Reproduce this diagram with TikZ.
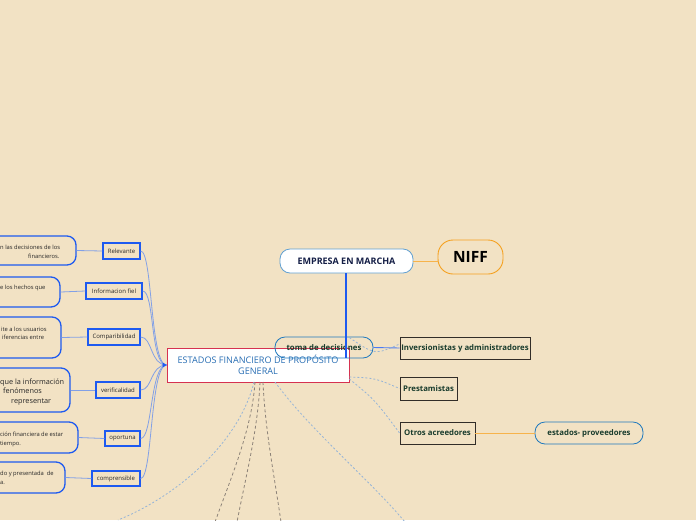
\documentclass[tikz,border=0pt]{standalone}
\usepackage{fontspec}
\setmainfont{Open Sans}
\definecolor{bg}{RGB}{242,226,196}
\definecolor{cenred}{RGB}{214,50,80}
\definecolor{centxt}{RGB}{40,110,180}
\definecolor{navy}{RGB}{20,30,70}
\definecolor{boxblue}{RGB}{30,90,240}
\definecolor{linkblue}{RGB}{130,160,230}
\definecolor{roundblue}{RGB}{30,120,190}
\definecolor{dkgreen}{RGB}{25,60,45}
\definecolor{niffor}{RGB}{245,160,30}
\definecolor{dashblue}{RGB}{150,180,215}
\definecolor{dashgray}{RGB}{140,130,120}
\definecolor{darkedge}{RGB}{50,45,40}
\tikzset{
  smallbox/.style={draw=boxblue, line width=1.3pt, fill=bg, inner sep=0pt, font=\fontsize{6}{7}\selectfont, text=black!85},
  bigbox/.style={draw=boxblue, line width=1.3pt, fill=bg, rounded corners=9pt},
  bigtxt/.style={inner sep=0pt, text=black!85},
  leaf/.style={draw=darkedge, line width=0.9pt, fill=bg, inner sep=0pt, font=\fontsize{7.8}{9}\selectfont\bfseries, text=dkgreen},
  pill/.style={draw=roundblue, line width=0.8pt, rounded corners=10pt, inner sep=0pt, font=\fontsize{7.8}{9}\selectfont\bfseries, text=dkgreen},
  link/.style={draw=linkblue, line width=0.8pt},
  dlink/.style={draw=dashblue, line width=0.8pt, dash pattern=on 2pt off 2pt},
  glink/.style={draw=dashgray, line width=0.8pt, dash pattern=on 3pt off 2.5pt},
}
\newcommand{\smalltxt}{\fontsize{5.8}{7}\selectfont}
\newcommand{\midtxt}{\fontsize{7.3}{8}\selectfont}
\begin{document}
\begin{tikzpicture}[x=1pt,y=-1pt]
\fill[bg] (0,0) rectangle (696,520);
\useasboundingbox (0,0) rectangle (696,520);

% central
\node[draw=cenred, line width=0.8pt, fill=white, minimum width=182pt, minimum height=34pt, inner sep=0pt, align=center, text=centxt, font=\fontsize{9.1}{10.5}\selectfont] (cen) at (258,365) {ESTADOS FINANCIERO DE PROPÓSITO\\GENERAL};

% small boxes
\node[smallbox, minimum width=37pt, minimum height=16pt] (rel) at (121.5,251) {Relevante};
\node[smallbox, minimum width=56pt, minimum height=16pt] (inf) at (114,291) {Informacion fiel};
\node[smallbox, minimum width=52pt, minimum height=16pt] (com) at (114,337) {Comparibilidad};
\node[smallbox, minimum width=44pt, minimum height=16pt] (ver) at (118,390) {verificalidad};
\node[smallbox, minimum width=35pt, minimum height=15pt] (opo) at (122.5,438.5) {oportuna};
\node[smallbox, minimum width=48pt, minimum height=15pt] (cpr) at (116,478.5) {comprensible};

% big boxes (left, partially outside)
\node[bigbox, minimum width=136pt, minimum height=29pt] (b1) at (8,250.5) {};
\node[bigbox, minimum width=120pt, minimum height=30pt] (b2) at (0,292) {};
\node[bigbox, minimum width=121pt, minimum height=41pt] (b3) at (0.5,337.5) {};
\node[bigbox, minimum width=130pt, minimum height=44pt] (b4) at (5,390) {};
\node[bigbox, minimum width=138pt, minimum height=31pt] (b5) at (9,437.5) {};
\node[bigbox, minimum width=125pt, minimum height=31pt] (b6) at (2.5,477.5) {};

\node[bigtxt, anchor=base west, font=\smalltxt] (t1a) at (0,249) {n las decisiones de los};
\node[bigtxt, anchor=base west, font=\smalltxt] (t1b) at (28,258) {financieros.};
\node[bigtxt, anchor=base west, font=\smalltxt] (t2a) at (0,289) {e los hechos que};
\node[bigtxt, anchor=base west, font=\smalltxt] (t3a) at (1,331) {ite a los usuarios};
\node[bigtxt, anchor=base west, font=\smalltxt] (t3b) at (2,339) {iferencias entre};
\node[bigtxt, anchor=base west, font=\midtxt] (t4a) at (0,384) {que la información};
\node[bigtxt, anchor=base west, font=\midtxt] (t4b) at (3,393) {fenómenos};
\node[bigtxt, anchor=base west, font=\midtxt] (t4c) at (11,403) {representar};
\node[bigtxt, anchor=base west, font=\smalltxt] (t5a) at (0,436) {ción financiera de estar};
\node[bigtxt, anchor=base west, font=\smalltxt] (t5b) at (0,445) {tiempo.};
\node[bigtxt, anchor=base west, font=\smalltxt] (t6a) at (0,475) {do y presentada \ de};
\node[bigtxt, anchor=base west, font=\smalltxt] (t6b) at (0,484) {a.};

% links big -> small
\draw[link] (b1.east) -- (rel.west);
\draw[link] (b2.east) -- (inf.west);
\draw[link] (b3.east) -- (com.west);
\draw[link] (b4.east) -- (ver.west);
\draw[link] (b5.east) -- (opo.west);
\draw[link] (b6.east) -- (cpr.west);

% links small -> central
\foreach \n in {rel,inf,com,ver,opo,cpr}
  \draw[link] (\n.east) .. controls +(12,0) and (150,365) .. (cen.west);
\fill[boxblue] (cen.west) -- +(-4,-2.5) -- +(-4,2.5) -- cycle;

% right side
\node[pill, draw=roundblue!70, fill=white, minimum width=133pt, minimum height=24pt, text=navy, font=\fontsize{9}{10}\selectfont\bfseries] (emp) at (346.5,261) {EMPRESA EN MARCHA};
\node[draw=niffor, line width=0.9pt, rounded corners=15pt, minimum width=65pt, minimum height=34pt, inner sep=0pt, font=\fontsize{15.5}{17}\selectfont\bfseries, text=black] (niff) at (470.5,257) {NIFF};
\draw[niffor!80, line width=1pt] (emp.east) -- (niff.west|-emp.east);

\node[pill, minimum width=98pt, minimum height=21pt] (toma) at (324,347.5) {toma de decisiones};
\coordinate (vend) at (346,358);
\draw[boxblue, line width=1.3pt] (emp.south -| vend) -- (vend);

\node[leaf, minimum width=130pt, minimum height=22pt] (inv) at (465,348) {Inversionistas y administradores};
\node[leaf, minimum width=57pt, minimum height=23pt] (pre) at (428.5,388.5) {Prestamistas};
\node[leaf, minimum width=75pt, minimum height=22pt] (otr) at (437.5,433) {Otros acreedores};
\node[pill, minimum width=108pt, minimum height=22pt] (est) at (589,433) {estados- proveedores};

\draw[boxblue!80, line width=0.9pt] (toma.east) -- (inv.west);
\draw[dlink] (cen.north east) ++(0,-10) .. controls (375,355) .. ([yshift=4pt]inv.west);
\draw[dlink] ([yshift=-12pt]cen.east) .. controls (375,378) .. (pre.west);
\draw[dlink] ([yshift=-14pt]cen.east) .. controls (375,400) .. (otr.west);
\draw[niffor!80, line width=1pt] (otr.east) -- (est.west);

% lower dashed lines
\coordinate (e1) at (118,520);
\coordinate (e2) at (215,522);
\coordinate (e3) at (237,522);
\coordinate (e4) at (281,522);
\coordinate (e5) at (405,522);
\coordinate (s1) at (254,382);
\coordinate (s2) at (255,382);
\coordinate (s3) at (260,382);
\coordinate (s4) at (263,382);
\coordinate (s5) at (275,382);
\draw[dlink] (s1) .. controls (240,440) and (180,495) .. (e1);
\draw[glink] (s2) .. controls (252,430) and (230,480) .. (e2);
\draw[glink] (s3) .. controls (258,430) and (245,480) .. (e3);
\draw[glink] (s4) .. controls (265,430) and (275,480) .. (e4);
\draw[dlink] (s5) .. controls (310,430) and (370,480) .. (e5);
\end{tikzpicture}
\end{document}
